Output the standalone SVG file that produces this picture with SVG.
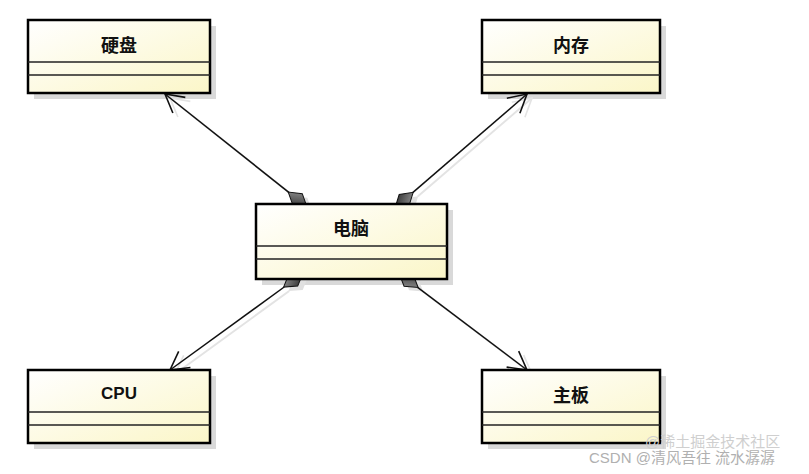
<svg xmlns="http://www.w3.org/2000/svg" width="809" height="474" viewBox="0 0 809 474">
<defs>
<linearGradient id="boxFill" x1="0" y1="0" x2="1" y2="1">
<stop offset="0" stop-color="#ffffff"/>
<stop offset="1" stop-color="#fbf6c8"/>
</linearGradient>
<linearGradient id="diaFill" x1="0" y1="0" x2="1" y2="1">
<stop offset="0" stop-color="#a0a0a0"/>
<stop offset="1" stop-color="#1e1e1e"/>
</linearGradient>
<path id="dia" d="M0,0 L-12,-7.5 L-24,0 L-12,7.5 Z"/>
<path id="arr" d="M-18,-10 L0,0 L-18,10"/>
</defs>
<style>
.shadow{fill:#d9d9d9}
.box{fill:url(#boxFill);stroke:#000;stroke-width:2.5}
.sep{stroke:#222;stroke-width:1.5}
.t{font-family:"Noto Sans CJK SC","Liberation Sans",sans-serif;font-size:18px;font-weight:bold;fill:#111;text-anchor:middle}
.tl{font-family:"Liberation Sans",Arial,sans-serif;font-size:17px;font-weight:bold;fill:#111;text-anchor:middle}
.conn{stroke:#111;stroke-width:1.5;fill:none}
.cshadow{stroke:#e3e3e3;stroke-width:2;fill:none}
.dshadow{fill:#e0e0e0}
.dmd{fill:url(#diaFill);stroke:#111;stroke-width:1}
.ahead{fill:none;stroke:#111;stroke-width:1.6}
.ashadow{fill:none;stroke:#e3e3e3;stroke-width:1.6}
.wm{font-family:"Liberation Sans","Noto Sans CJK SC",sans-serif;font-size:15px;fill:#b0b0b0}
</style>
<rect width="809" height="474" fill="#fff"/>
<g id="shadows">
<rect class="shadow" x="34" y="26" width="182" height="73"/>
<rect class="shadow" x="488" y="26" width="178" height="73"/>
<rect class="shadow" x="262" y="210" width="191" height="75"/>
<rect class="shadow" x="34" y="376" width="182" height="73"/>
<rect class="shadow" x="488" y="376" width="178" height="73"/>
</g>
<g id="connectors">
<g transform="translate(5,4)">
<line class="cshadow" x1="288.8" y1="192.3" x2="165" y2="94"/>
<line class="cshadow" x1="412.7" y1="192.6" x2="527" y2="94"/>
<line class="cshadow" x1="284.2" y1="287" x2="170" y2="370"/>
<line class="cshadow" x1="417.6" y1="287.3" x2="527" y2="370"/>
<use href="#dia" class="dshadow" transform="translate(307,207) rotate(38.5)"/>
<use href="#dia" class="dshadow" transform="translate(395,208) rotate(139.2)"/>
<use href="#dia" class="dshadow" transform="translate(303,273) rotate(-36)"/>
<use href="#dia" class="dshadow" transform="translate(399,273) rotate(-142.9)"/>
<use href="#arr" class="ashadow" transform="translate(165,94) rotate(-141.5)"/>
<use href="#arr" class="ashadow" transform="translate(527,94) rotate(-40.8)"/>
<use href="#arr" class="ashadow" transform="translate(170,370) rotate(144)"/>
<use href="#arr" class="ashadow" transform="translate(527,370) rotate(37.1)"/>
</g>
<line class="conn" x1="288.8" y1="192.3" x2="165" y2="94"/>
<line class="conn" x1="412.7" y1="192.6" x2="527" y2="94"/>
<line class="conn" x1="284.2" y1="287" x2="170" y2="370"/>
<line class="conn" x1="417.6" y1="287.3" x2="527" y2="370"/>
<use href="#dia" class="dmd" transform="translate(307,207) rotate(38.5)"/>
<use href="#dia" class="dmd" transform="translate(395,208) rotate(139.2)"/>
<use href="#dia" class="dmd" transform="translate(303,273) rotate(-36)"/>
<use href="#dia" class="dmd" transform="translate(399,273) rotate(-142.9)"/>
<use href="#arr" class="ahead" transform="translate(165,94) rotate(-141.5)"/>
<use href="#arr" class="ahead" transform="translate(527,94) rotate(-40.8)"/>
<use href="#arr" class="ahead" transform="translate(170,370) rotate(144)"/>
<use href="#arr" class="ahead" transform="translate(527,370) rotate(37.1)"/>
</g>
<g id="harddisk">
<rect class="box" x="28" y="20" width="182" height="73"/>
<line class="sep" x1="28" y1="62" x2="210" y2="62"/>
<line class="sep" x1="28" y1="75" x2="210" y2="75"/>
<text class="t" x="119" y="52">硬盘</text>
</g>
<g id="memory">
<rect class="box" x="482" y="20" width="178" height="73"/>
<line class="sep" x1="482" y1="62" x2="660" y2="62"/>
<line class="sep" x1="482" y1="75" x2="660" y2="75"/>
<text class="t" x="571" y="52">内存</text>
</g>
<g id="computer">
<rect class="box" x="256" y="204" width="191" height="75"/>
<line class="sep" x1="256" y1="246" x2="447" y2="246"/>
<line class="sep" x1="256" y1="259" x2="447" y2="259"/>
<text class="t" x="351" y="235">电脑</text>
</g>
<g id="cpu">
<rect class="box" x="28" y="370" width="182" height="73"/>
<line class="sep" x1="28" y1="412" x2="210" y2="412"/>
<line class="sep" x1="28" y1="425" x2="210" y2="425"/>
<text class="tl" x="119" y="399">CPU</text>
</g>
<g id="mainboard">
<rect class="box" x="482" y="370" width="178" height="73"/>
<line class="sep" x1="482" y1="412" x2="660" y2="412"/>
<line class="sep" x1="482" y1="425" x2="660" y2="425"/>
<text class="t" x="571" y="402">主板</text>
</g>
<g id="watermark">
<text class="wm" x="645" y="447" style="fill:#cfcfcf">@稀土掘金技术社区</text>
<text class="wm" x="589" y="463">CSDN @清风吾往 流水潺潺</text>
</g>
</svg>
